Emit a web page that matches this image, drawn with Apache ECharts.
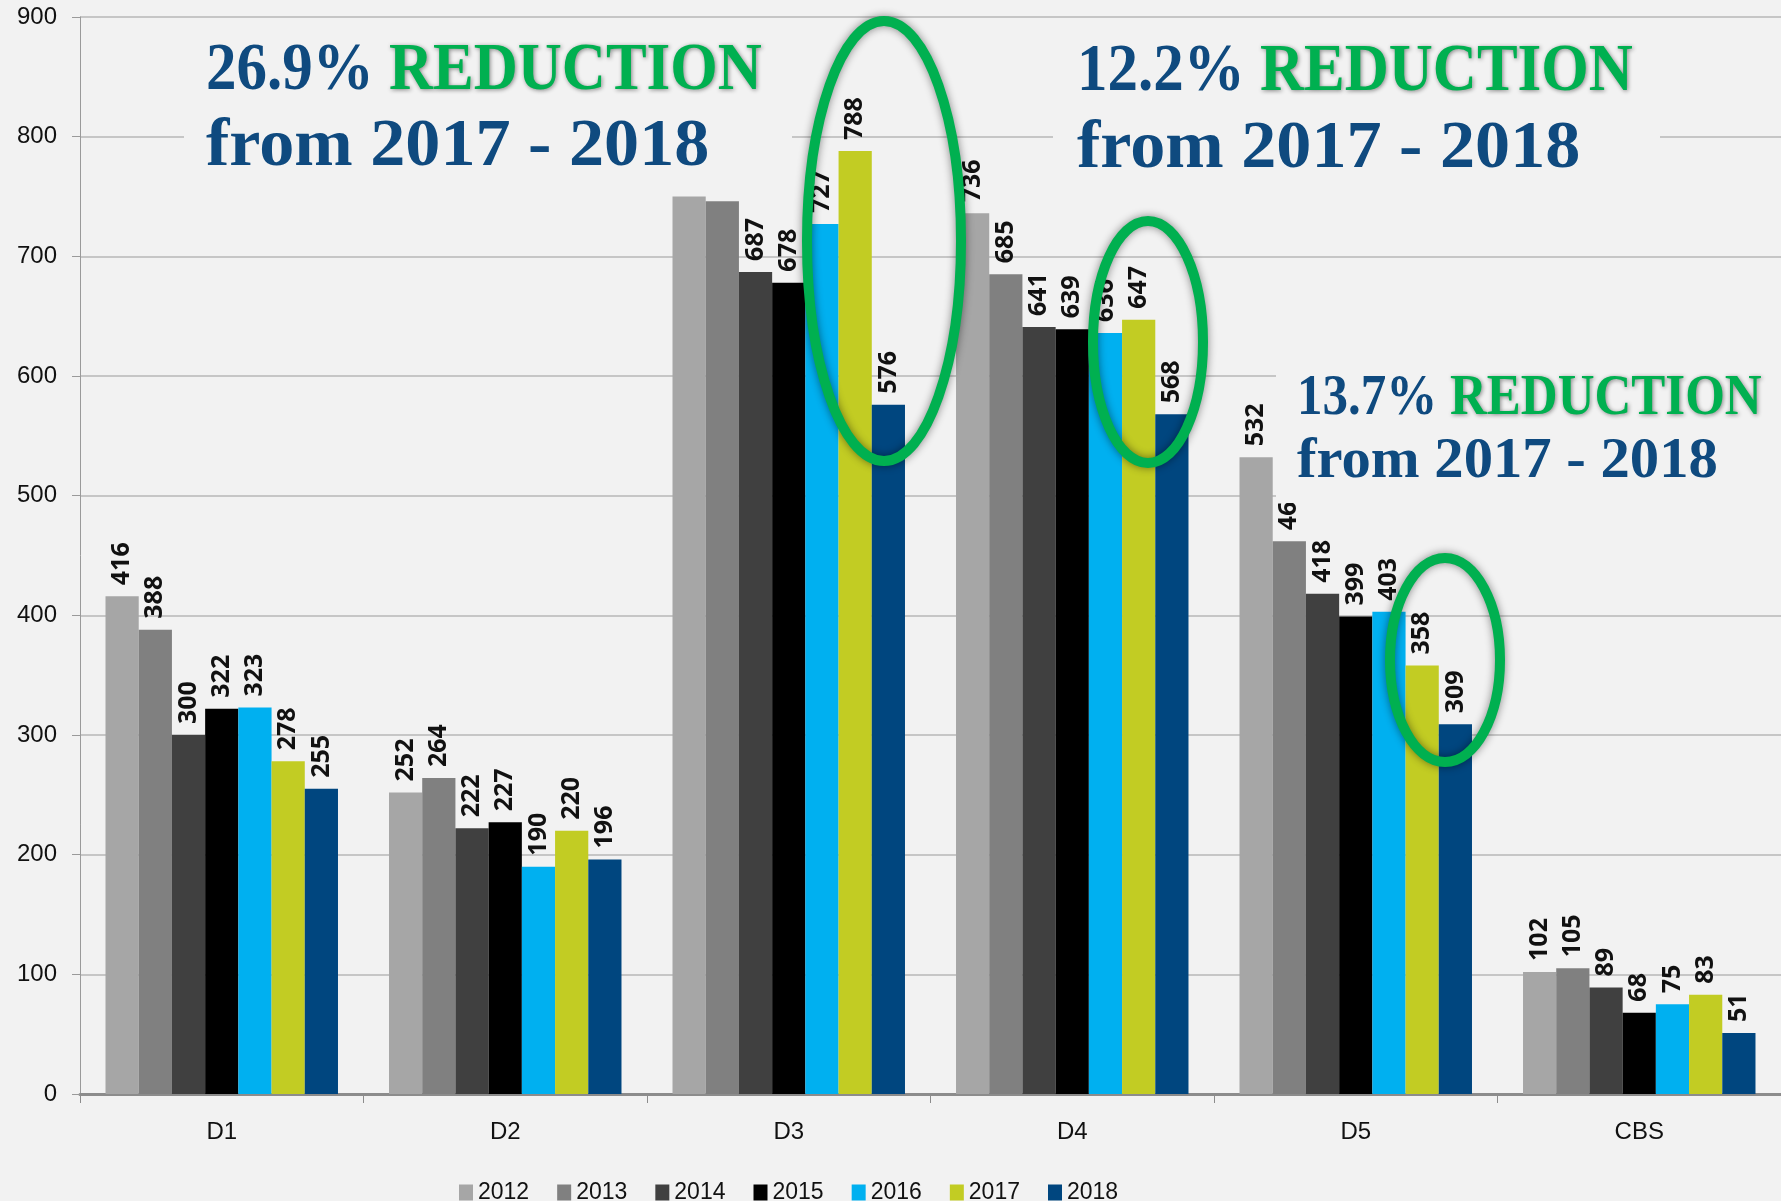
<!DOCTYPE html>
<html>
<head>
<meta charset="utf-8">
<script src="https://cdn.jsdelivr.net/npm/echarts@6/dist/echarts.min.js"></script>
<style>
  html, body { margin: 0; padding: 0; background: #f2f2f2; }
  #main { width: 1781px; height: 1201px; }
</style>
</head>
<body>
<div id="main"></div>
<script>
// districts and years
var categories = ['D1', 'D2', 'D3', 'D4', 'D5', 'CBS'];
var years = ['2012', '2013', '2014', '2015', '2016', '2017', '2018'];

// values per year
var v2012 = [416, 252, 750, 736, 532, 102];
var v2013 = [388, 264, 746, 685, 462, 105];
var v2014 = [300, 222, 687, 641, 418, 89];
var v2015 = [322, 227, 678, 639, 399, 68];
var v2016 = [323, 190, 727, 636, 403, 75];
var v2017 = [278, 220, 788, 647, 358, 83];
var v2018 = [255, 196, 576, 568, 309, 51];

var colors = ['#a6a6a6', '#808080', '#404040', '#000000', '#00b0f0', '#c2cc23', '#00467f'];

// annotation texts
var notePct = ['26.9%', '12.2%', '13.7%'];
var noteWord = 'REDUCTION';
var noteRange = 'from 2017 - 2018';

var myChart = echarts.init(document.getElementById('main'));

var values = [v2012, v2013, v2014, v2015, v2016, v2017, v2018];
var series = [];
for (var i = 0; i < years.length; i++) {
    series.push({
        name: years[i],
        type: 'bar',
        data: values[i],
        barGap: '0%',
        barCategoryGap: '18%',
        itemStyle: { color: colors[i] },
        label: {
            show: true,
            position: 'top',
            rotate: 90,
            align: 'left',
            verticalAlign: 'middle',
            distance: 11,
            fontFamily: 'Open Sans',
            fontWeight: 'bold',
            fontSize: 25,
            color: '#111'
        }
    });
}

var blue = '#0f4a7f';
var green = '#00b050';

function noteLines(pct, x, y1, y2, size, sx2, sy) {
    var richStyle = {
        n: { fontFamily: 'Liberation Serif', fontWeight: 'bold', fontSize: size, fill: blue },
        r: {
            fontFamily: 'Liberation Serif', fontWeight: 'bold', fontSize: size, fill: green,
            textShadowColor: 'rgba(0,0,0,0.45)', textShadowBlur: 4,
            textShadowOffsetX: 1, textShadowOffsetY: 1
        }
    };
    return [{
        type: 'text', x: x, y: y1, z: 20, scaleY: sy,
        style: {
            text: '{n|' + pct + '} {r|' + noteWord + '}',
            rich: richStyle,
            font: 'bold ' + size + 'px "Liberation Serif"',
            fill: blue, align: 'left', verticalAlign: 'middle'
        }
    }, {
        type: 'text', x: x, y: y2, z: 20, scaleX: sx2, scaleY: sy,
        style: {
            text: noteRange,
            font: 'bold ' + size + 'px "Liberation Serif"',
            fill: blue, align: 'left', verticalAlign: 'middle'
        }
    }];
}

var ringStyle = {
    fill: 'none', stroke: green, lineWidth: 10,
    shadowColor: 'rgba(0,0,0,0.45)', shadowBlur: 8
};

var graphics = [
    // text boxes cover grid lines behind them
    { type: 'rect', z: 15, shape: { x: 184, y: 24, width: 608, height: 170 }, style: { fill: '#f2f2f2' } },
    { type: 'rect', z: 15, shape: { x: 1053, y: 24, width: 607, height: 166 }, style: { fill: '#f2f2f2' } },
    { type: 'rect', z: 15, shape: { x: 1276, y: 345, width: 505, height: 158 }, style: { fill: '#f2f2f2' } },
    // rings
    { type: 'ellipse', z: 25, shape: { cx: 884, cy: 241, rx: 77, ry: 220 }, style: ringStyle },
    { type: 'ellipse', z: 25, shape: { cx: 1148, cy: 342, rx: 55, ry: 121 }, style: ringStyle },
    { type: 'ellipse', z: 25, shape: { cx: 1445, cy: 660, rx: 55, ry: 102 }, style: ringStyle }
];
graphics = graphics.concat(noteLines(notePct[0], 206, 72, 148, 61, 1.15, 1.1));
graphics = graphics.concat(noteLines(notePct[1], 1077, 73, 150, 61, 1.15, 1.1));
graphics = graphics.concat(noteLines(notePct[2], 1297, 400, 463, 51, 1.15, 1.1));

var option = {
    animation: false,
    backgroundColor: '#f2f2f2',
    grid: { left: 80, top: 17, width: 1703, bottom: 107 },
    legend: {
        data: years,
        left: 454,
        top: 1176,
        icon: 'rect',
        itemWidth: 14,
        itemHeight: 16,
        itemGap: 28,
        textStyle: { fontFamily: 'Liberation Sans', fontSize: 23, color: '#111' }
    },
    xAxis: {
        type: 'category',
        data: categories,
        axisLine: { lineStyle: { color: '#8c8c8c', width: 3 } },
        axisTick: { show: true, length: 9, lineStyle: { color: '#8c8c8c', width: 1 } },
        axisLabel: { margin: 26, fontFamily: 'Liberation Sans', fontSize: 24, color: '#111' }
    },
    yAxis: {
        type: 'value',
        min: 0,
        max: 900,
        interval: 100,
        axisLine: { show: true, lineStyle: { color: '#9a9a9a', width: 1 } },
        axisTick: { show: true, length: 8, lineStyle: { color: '#9a9a9a' } },
        axisLabel: { margin: 23, fontFamily: 'Liberation Sans', fontSize: 24, color: '#111' },
        splitLine: { lineStyle: { color: '#c6c6c6', width: 2 } }
    },
    series: series,
    graphic: graphics
};

myChart.setOption(option);
</script>
</body>
</html>
